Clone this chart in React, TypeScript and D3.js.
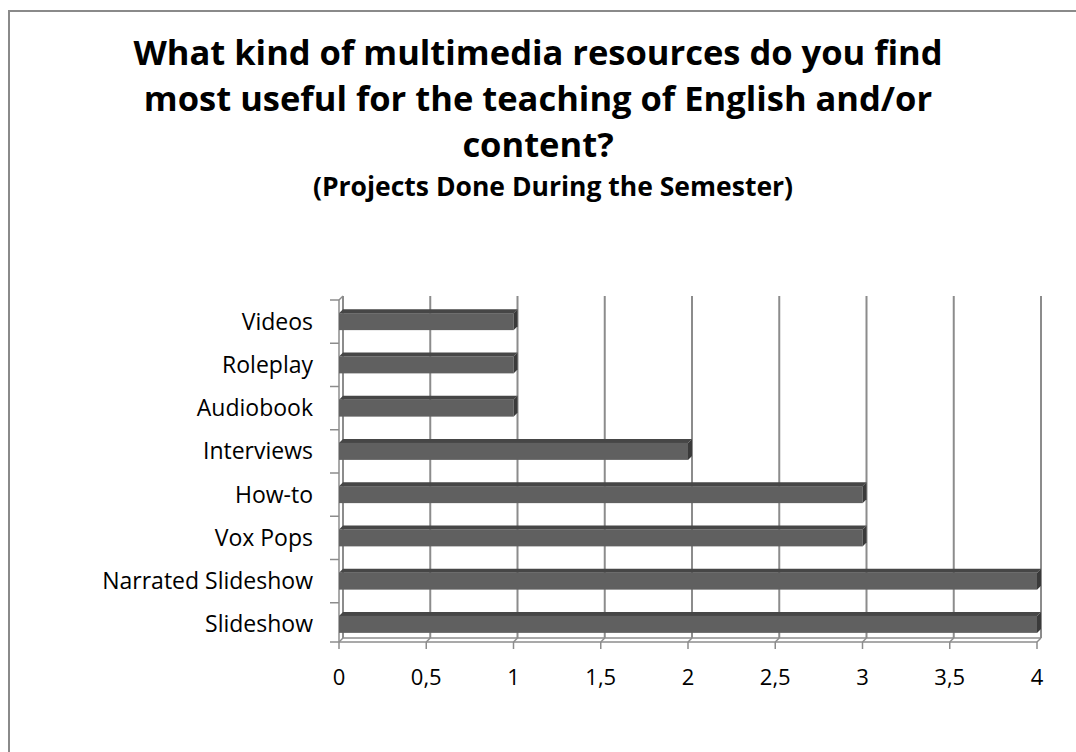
import React from "react";
import * as d3 from "d3";

const categories = ["Videos", "Roleplay", "Audiobook", "Interviews", "How-to", "Vox Pops", "Narrated Slideshow", "Slideshow"];
const values = [1, 1, 1, 2, 3, 3, 4, 4];
const xTicks = [0, 0.5, 1, 1.5, 2, 2.5, 3, 3.5, 4];
const xTickLabels = ["0", "0,5", "1", "1,5", "2", "2,5", "3", "3,5", "4"];
const titleLines = ["What kind of multimedia resources do you find", "most useful for the teaching of English and/or", "content?"];
const subtitle = "(Projects Done During the Semester)";

const W = 1076;
const H = 752;
const FONT = "'Open Sans', Lato, sans-serif";

export default function App() {
  const x = d3.scaleLinear().domain([0, 4]).range([339, 1037]);
  const y = d3.scaleBand<string>().domain(categories).range([300, 646]).paddingInner(0).paddingOuter(0);
  const d = 4;
  const top = 300;
  const floor = 642;
  const barH = 17;
  const grid = "#8c8c8c";

  return (
    <svg width={W} height={H} style={{ position: "absolute", left: 0, top: 0, display: "block", background: "#fff" }}>
      <rect x={9} y={11} width={1200} height={1000} fill="#fff" stroke="#8a8a8a" strokeWidth={2} />
      {titleLines.map((t, i) => (
        <text key={t} x={538} y={65 + i * 46} textAnchor="middle" fontFamily={FONT} fontWeight={700} fontSize={34.5} fill="#000">
          {t}
        </text>
      ))}
      <text x={553} y={196} textAnchor="middle" fontFamily={FONT} fontWeight={700} fontSize={26.5} fill="#000">
        {subtitle}
      </text>

      {/* left wall */}
      <line x1={x(0) + d} y1={top - d} x2={x(0) + d} y2={floor - d} stroke={grid} strokeWidth={1.5} />
      <line x1={x(0)} y1={top} x2={x(0)} y2={floor} stroke={grid} strokeWidth={1.5} />
      <line x1={x(0)} y1={top} x2={x(0) + d} y2={top - d} stroke={grid} strokeWidth={1.5} />
      {/* floor */}
      <line x1={x(0) + d} y1={floor - d} x2={x(4) + d} y2={floor - d} stroke={grid} strokeWidth={1.5} />
      <line x1={x(0)} y1={floor} x2={x(4)} y2={floor} stroke={grid} strokeWidth={1.5} />

      {/* gridlines */}
      {xTicks.map((v) => (
        <g key={v}>
          <line x1={x(v) + d} y1={top - d} x2={x(v) + d} y2={floor - d} stroke={grid} strokeWidth={2} />
          <line x1={x(v) + d} y1={floor - d} x2={x(v)} y2={floor} stroke={grid} strokeWidth={1.5} />
          <line x1={x(v)} y1={floor} x2={x(v)} y2={floor + 7} stroke={grid} strokeWidth={1.5} />
        </g>
      ))}

      {/* category ticks */}
      {categories.map((c) => (
        <line key={"t" + c} x1={x(0) - 9} y1={y(c)!} x2={x(0)} y2={y(c)!} stroke={grid} strokeWidth={1.5} />
      ))}
      <line x1={x(0) - 9} y1={floor} x2={x(0)} y2={floor} stroke={grid} strokeWidth={1.5} />

      {/* bars */}
      {categories.map((c, i) => {
        const cy = y(c)! + y.bandwidth() / 2;
        const bt = cy - barH / 2;
        const bb = cy + barH / 2;
        const x0 = x(0);
        const x1 = x(values[i]);
        return (
          <g key={"b" + c}>
            <polygon points={`${x0},${bt} ${x0 + d},${bt - d} ${x1 + d},${bt - d} ${x1},${bt}`} fill="#464646" />
            <rect x={x0} y={bt} width={x1 - x0} height={barH} fill="#606060" />
            <polygon points={`${x1},${bt} ${x1 + d},${bt - d} ${x1 + d},${bb - d} ${x1},${bb}`} fill="#3a3a3a" />
          </g>
        );
      })}

      {/* category labels */}
      {categories.map((c) => (
        <text key={"l" + c} x={313} y={y(c)! + y.bandwidth() / 2 + 8} textAnchor="end" fontFamily={FONT} fontSize={23} fill="#000">
          {c}
        </text>
      ))}

      {/* x labels */}
      {xTicks.map((v, i) => (
        <text key={"x" + v} x={x(v)} y={685} textAnchor="middle" fontFamily={FONT} fontSize={22} fill="#000">
          {xTickLabels[i]}
        </text>
      ))}
    </svg>
  );
}
